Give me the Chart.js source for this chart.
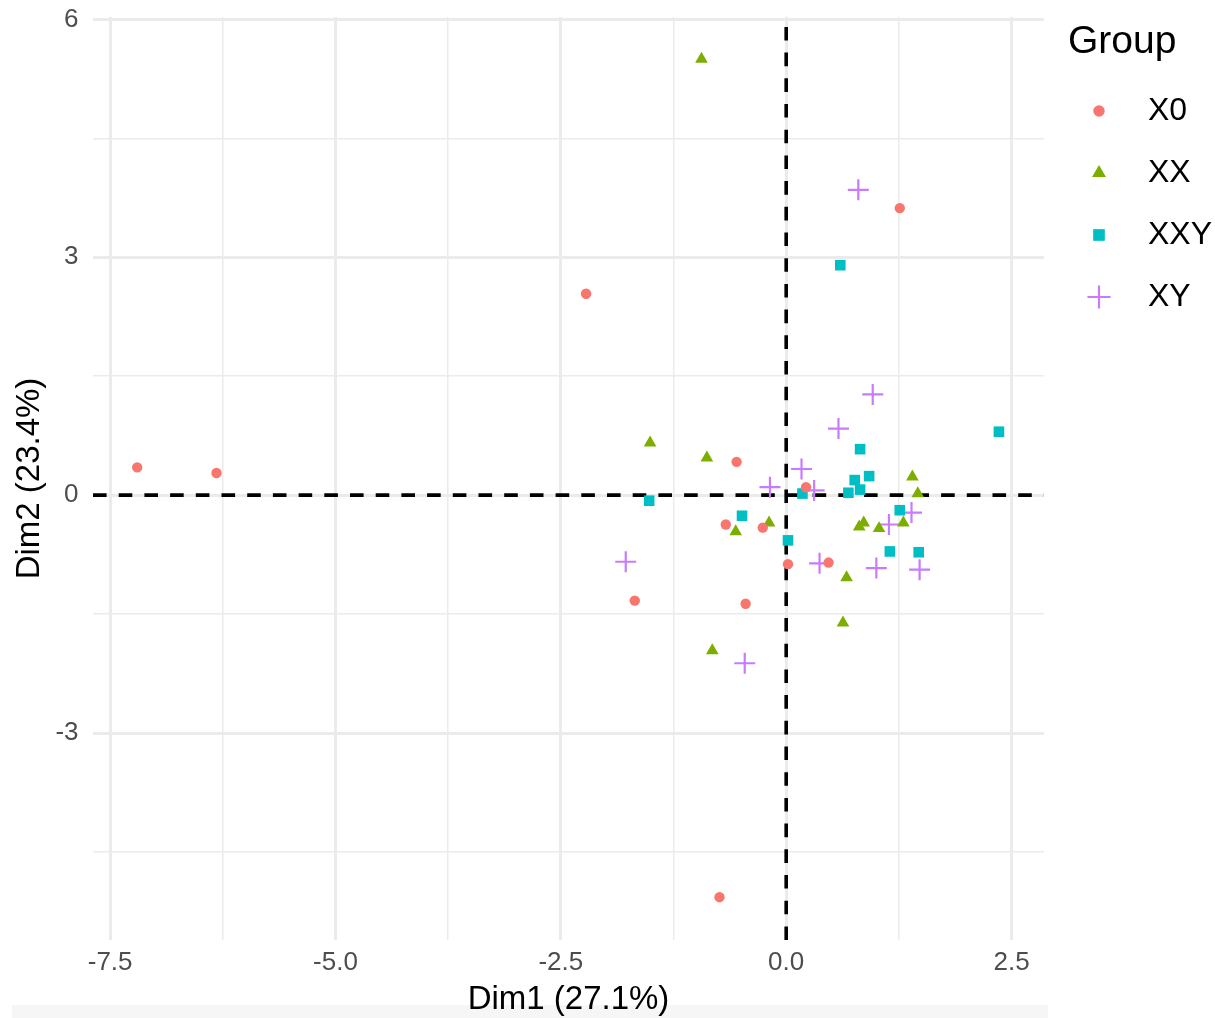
<!DOCTYPE html>
<html>
<head>
<meta charset="utf-8">
<script src="https://cdn.jsdelivr.net/npm/chart.js@4.4.1/dist/chart.umd.min.js"></script>
<style>
  html, body { margin: 0; padding: 0; background: #fff; }
  #wrap { position: relative; width: 1215px; height: 1018px; }
  #strip { position: absolute; left: 12px; top: 1005px; width: 1036px; height: 13px; background: #f6f6f6; }
  canvas { position: absolute; left: 0; top: 0; }
</style>
</head>
<body>
<div id="wrap">
  <div id="strip"></div>
  <canvas id="pca" width="1215" height="1018"></canvas>
</div>
<script>
// groups and their coordinates on the first two dimensions
const groups = ["X0", "XX", "XXY", "XY"];

const x0Dim1 = [-7.20, -6.32, -2.22, 1.26, -0.55, 0.22, -0.67, -0.26, 0.02, 0.47, -1.68, -0.45, -0.74];
const x0Dim2 = [0.35, 0.28, 2.54, 3.62, 0.42, 0.10, -0.37, -0.41, -0.87, -0.85, -1.33, -1.37, -5.07];

const xxDim1 = [-0.94, -1.51, -0.88, -0.56, -0.19, 1.40, 1.46, 0.81, 0.86, 1.03, 1.30, 0.67, 0.63, -0.82];
const xxDim2 = [5.50, 0.66, 0.47, -0.46, -0.35, 0.23, 0.02, -0.40, -0.35, -0.42, -0.35, -1.04, -1.61, -1.96];

const xxyDim1 = [0.60, 2.36, 0.82, 0.92, 0.76, 0.82, 0.69, 0.18, 1.26, 1.15, 1.47, -1.52, -0.49, 0.02];
const xxyDim2 = [2.90, 0.80, 0.58, 0.24, 0.19, 0.07, 0.03, 0.02, -0.19, -0.71, -0.72, -0.07, -0.26, -0.57];

const xyDim1 = [0.80, 0.58, 0.96, 0.17, 0.31, -0.18, 1.39, 1.14, 0.37, 1.00, 1.48, -1.78, -0.46];
const xyDim2 = [3.85, 0.84, 1.27, 0.33, 0.06, 0.10, -0.22, -0.37, -0.86, -0.92, -0.94, -0.84, -2.12];

// axis ticks (empty label = minor grid line)
const xTicks = [-7.5, -6.25, -5, -3.75, -2.5, -1.25, 0, 1.25, 2.5];
const xTickLabels = ["-7.5", "", "-5.0", "", "-2.5", "", "0.0", "", "2.5"];
const yTicks = [-4.5, -3, -1.5, 0, 1.5, 3, 4.5, 6];
const yTickLabels = ["", "-3", "", "0", "", "3", "", "6"];

const xTitle = "Dim1 (27.1%)";
const yTitle = "Dim2 (23.4%)";
const legendTitle = "Group";

const FONT = "'Liberation Sans', Arial, sans-serif";
const styles = [
  { color: "#F8766D", shape: "circle", radius: 5.2, border: 0 },
  { color: "#7CAE00", shape: "triangle", radius: 7.3, border: 0 },
  { color: "#00BFC4", shape: "rect", radius: 7.5, border: 0 },
  { color: "#C77CFF", shape: "cross", radius: 10.5, border: 2.2 }
];

function toPoints(xs, ys) {
  return xs.map((x, i) => ({ x: x, y: ys[i] }));
}

const groupData = [
  toPoints(x0Dim1, x0Dim2),
  toPoints(xxDim1, xxDim2),
  toPoints(xxyDim1, xxyDim2),
  toPoints(xyDim1, xyDim2)
];

const datasets = groups.map((g, i) => ({
  label: g,
  data: groupData[i],
  pointStyle: styles[i].shape,
  pointRadius: styles[i].radius,
  pointHoverRadius: styles[i].radius,
  backgroundColor: styles[i].color,
  borderColor: styles[i].color,
  pointBorderWidth: styles[i].border,
  pointHoverBorderWidth: styles[i].border,
  showLine: false
}));

// dashed reference lines through the origin
const zeroLines = {
  id: "zeroLines",
  beforeDatasetsDraw(chart) {
    const { ctx, chartArea: a, scales } = chart;
    const px = scales.x.getPixelForValue(0);
    const py = scales.y.getPixelForValue(0);
    ctx.save();
    ctx.strokeStyle = "#000";
    ctx.lineWidth = 3.6;
    ctx.setLineDash([13.6, 12.1]);
    ctx.beginPath();
    ctx.moveTo(a.left, py);
    ctx.lineTo(a.right, py);
    ctx.stroke();
    ctx.beginPath();
    ctx.moveTo(px, a.bottom);
    ctx.lineTo(px, a.top);
    ctx.stroke();
    ctx.restore();
  }
};

// ggplot-like legend at the right of the panel
const groupLegend = {
  id: "groupLegend",
  afterDraw(chart) {
    const ctx = chart.ctx;
    const left = chart.chartArea.right + 24;
    ctx.save();
    ctx.textBaseline = "middle";
    ctx.fillStyle = "#000";
    ctx.font = "39px " + FONT;
    ctx.fillText(legendTitle, left, 42);
    chart.data.datasets.forEach((ds, i) => {
      const y = 111 + i * 62;
      ctx.fillStyle = ds.backgroundColor;
      ctx.strokeStyle = ds.borderColor;
      ctx.lineWidth = ds.pointBorderWidth;
      Chart.helpers.drawPoint(ctx, {
        pointStyle: ds.pointStyle,
        radius: ds.pointRadius * 1.1,
        borderWidth: ds.pointBorderWidth,
        rotation: 0
      }, left + 31, y);
      ctx.fillStyle = "#000";
      ctx.font = "32px " + FONT;
      ctx.fillText(ds.label, left + 80, y);
    });
    ctx.restore();
  }
};

function gridWidth(labels) {
  return (c) => (labels[c.index] ? 3 : 1.5);
}

const ctx = document.getElementById("pca").getContext("2d");
const chart = new Chart(ctx, {
  type: "scatter",
  data: { datasets: datasets },
  plugins: [zeroLines, groupLegend],
  options: {
    responsive: false,
    animation: false,
    events: [],
    layout: { padding: { top: 17, right: 171, bottom: 0, left: 0 } },
    plugins: {
      legend: { display: false },
      tooltip: { enabled: false }
    },
    scales: {
      x: {
        type: "linear",
        min: -7.69,
        max: 2.86,
        afterBuildTicks: (s) => { s.ticks = xTicks.map((v) => ({ value: v })); },
        afterFit: (s) => {
          s.height = 78;
          s.paddingLeft = 0;
          s.paddingRight = 0;
        },
        border: { display: false },
        grid: { color: "#EBEBEB", lineWidth: gridWidth(xTickLabels), drawTicks: false },
        ticks: {
          autoSkip: false,
          maxRotation: 0,
          padding: 10,
          color: "#4D4D4D",
          font: { family: FONT, size: 26, lineHeight: 1 },
          callback: (v, i) => xTickLabels[i]
        },
        title: {
          display: true,
          text: xTitle,
          color: "#000",
          font: { family: FONT, size: 33, lineHeight: 1 },
          padding: { top: 0, bottom: 1.5 }
        }
      },
      y: {
        type: "linear",
        min: -5.61,
        max: 6.03,
        afterBuildTicks: (s) => { s.ticks = yTicks.map((v) => ({ value: v })); },
        afterFit: (s) => {
          s.width = 93;
          s.paddingTop = 0;
          s.paddingBottom = 0;
        },
        border: { display: false },
        grid: { color: "#EBEBEB", lineWidth: gridWidth(yTickLabels), drawTicks: false },
        ticks: {
          autoSkip: false,
          padding: 14.5,
          color: "#4D4D4D",
          font: { family: FONT, size: 26, lineHeight: 1 },
          callback: (v, i) => yTickLabels[i]
        },
        title: {
          display: true,
          text: yTitle,
          color: "#000",
          font: { family: FONT, size: 33, lineHeight: 1 },
          padding: { top: 13.5, bottom: 0 }
        }
      }
    }
  }
});
</script>
</body>
</html>
